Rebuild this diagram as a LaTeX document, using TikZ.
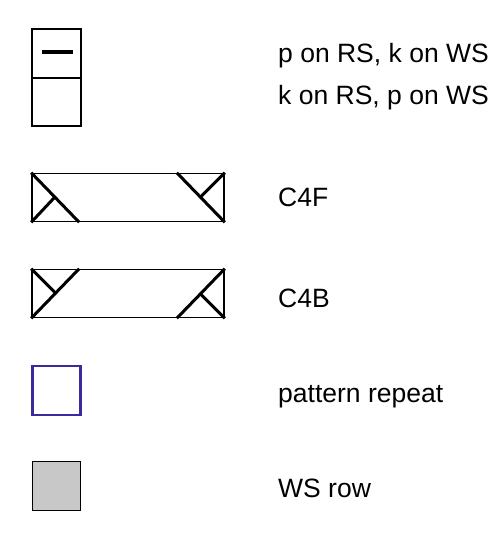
\documentclass[tikz,border=0pt]{standalone}
\usepackage{fontspec}
\setmainfont{Liberation Sans}
\definecolor{repblue}{HTML}{3B2A9C}
\definecolor{wsgray}{HTML}{C8C8C8}
\begin{document}
\begin{tikzpicture}[x=1pt,y=-1pt,
  cell/.style={draw=black,line width=1.6pt},
  cable/.style={line width=3pt,line cap=butt},
  lbl/.style={anchor=base west,inner sep=0pt,font=\fontsize{26.5}{30}\selectfont}]
\useasboundingbox (0,0) rectangle (498,534);
% purl / knit cells
\node[cell,minimum width=49pt,minimum height=49pt,inner sep=0pt] (purl) at (56.5,53.5) {};
\node[cell,minimum width=49pt,minimum height=48pt,inner sep=0pt] (knit) at (56.5,102) {};
\draw[line width=3.5pt] (42,52) -- (73,52);
% C4F
\node[cell,minimum width=192pt,minimum height=48pt,inner sep=0pt] (c4f) at (128,197.5) {};
\draw[cable] (c4f.north west) -- ([xshift=48pt]c4f.south west);
\draw[cable] (c4f.south west) -- ([xshift=24pt,yshift=-24pt]c4f.north west);
\draw[cable] ([xshift=-48pt]c4f.north east) -- (c4f.south east);
\draw[cable] (c4f.north east) -- ([xshift=-24pt,yshift=-24pt]c4f.north east);
% C4B
\node[cell,minimum width=192pt,minimum height=48pt,inner sep=0pt] (c4b) at (128,293.5) {};
\draw[cable] ([xshift=48pt]c4b.north west) -- (c4b.south west);
\draw[cable] (c4b.north west) -- ([xshift=24pt,yshift=-24pt]c4b.north west);
\draw[cable] (c4b.north east) -- ([xshift=-48pt]c4b.south east);
\draw[cable] (c4b.south east) -- ([xshift=-24pt,yshift=24pt]c4b.south east);
% pattern repeat
\node[draw=repblue,line width=2.6pt,minimum width=48pt,minimum height=49pt,inner sep=0pt] (rep) at (56.5,390.5) {};
% WS row
\node[draw=black,fill=wsgray,line width=1.8pt,minimum width=48pt,minimum height=49pt,inner sep=0pt] (ws) at (56.5,486) {};
% labels
\node[lbl] (t1) at (278,63) {p on RS, k on WS};
\node[lbl] (t2) at (278,105) {k on RS, p on WS};
\node[lbl] (t3) at (278,207) {C4F};
\node[lbl] (t4) at (278,307) {C4B};
\node[lbl] (t5) at (278,402) {pattern repeat};
\node[lbl] (t6) at (278,497) {WS row};
\end{tikzpicture}
\end{document}
